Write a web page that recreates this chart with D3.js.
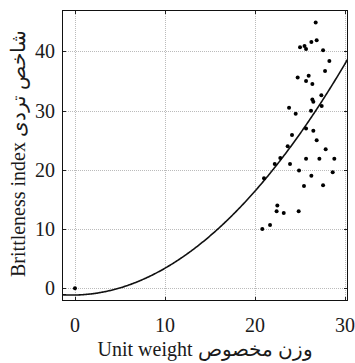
<!DOCTYPE html>
<html>
<head>
<meta charset="utf-8">
<script src="https://cdn.jsdelivr.net/npm/d3@7/dist/d3.min.js"></script>
<style>
  body { margin: 0; background: #fff; }
  text { font-family: "Liberation Serif", "Times New Roman", serif; fill: #1a1a1a; }
</style>
</head>
<body>
<div id="chart"></div>
<script>
// measured points: unit weight (x) vs brittleness index (y)
const unitWeight = [0, 26.74, 26.85, 26.26, 25.0, 25.5, 25.67, 27.56, 28.26, 27.78,
  24.74, 25.96, 25.67, 26.37, 27.37, 26.37, 26.48, 27.41, 23.78, 26.22,
  24.52, 25.67, 26.48, 24.11, 26.85, 23.63, 27.85, 22.81, 25.67, 27.15,
  28.81, 22.19, 23.89, 24.89, 28.63, 26.26, 21.0, 25.44, 27.56, 22.48,
  22.4, 23.19, 24.85, 20.81, 21.67];
const brittleness = [0, 44.9, 41.9, 41.6, 40.7, 40.9, 40.4, 40.2, 38.4, 36.7,
  35.6, 35.9, 35.0, 34.5, 32.6, 31.9, 31.5, 30.8, 30.5, 30.0,
  29.5, 27.0, 26.6, 25.9, 25.0, 24.0, 23.5, 22.0, 21.9, 21.9,
  21.9, 21.0, 21.0, 19.9, 19.6, 19.0, 18.6, 17.3, 17.4, 14.0,
  13.0, 12.7, 13.0, 10.0, 10.7];

// fitted quadratic: y = c0 + c1*x + c2*x^2
const fitCoef = [-1.13, 0.028, 0.04247];

const xTicks = [0, 10, 20, 30];
const yTicks = [0, 10, 20, 30, 40];
const xTitle = "Unit weight وزن مخصوص";
const yTitle = "Brittleness index شاخص تردی";

const width = 355, height = 363;
const margin = {top: 10, right: 7, bottom: 62, left: 62};

const svg = d3.select('#chart').append('svg')
    .attr('width', width)
    .attr('height', height);

const x = d3.scaleLinear()
    .domain([-1.44, 30.33])
    .range([margin.left, width - margin.right]);

const y = d3.scaleLinear()
    .domain([-2.14, 47.0])
    .range([height - margin.bottom, margin.top]);

const x0 = margin.left, x1 = width - margin.right;
const y0 = height - margin.bottom, y1 = margin.top;

// grid
const grid = svg.append('g').attr('stroke', '#bbb').attr('stroke-width', 1)
    .attr('stroke-dasharray', '1,1');
grid.selectAll('line.gx').data(xTicks).enter().append('line')
    .attr('x1', d => Math.round(x(d)) + 0.5).attr('x2', d => Math.round(x(d)) + 0.5)
    .attr('y1', y1).attr('y2', y0);
grid.selectAll('line.gy').data(yTicks).enter().append('line')
    .attr('y1', d => Math.round(y(d)) + 0.5).attr('y2', d => Math.round(y(d)) + 0.5)
    .attr('x1', x0).attr('x2', x1);

// inward ticks on every side
const ticks = svg.append('g').attr('stroke', '#222').attr('stroke-width', 1);
const tl = 4;
xTicks.forEach(d => {
  const px = Math.round(x(d)) + 0.5;
  ticks.append('line').attr('x1', px).attr('x2', px).attr('y1', y0).attr('y2', y0 - tl);
  ticks.append('line').attr('x1', px).attr('x2', px).attr('y1', y1).attr('y2', y1 + tl);
});
yTicks.forEach(d => {
  const py = Math.round(y(d)) + 0.5;
  ticks.append('line').attr('y1', py).attr('y2', py).attr('x1', x0).attr('x2', x0 + tl);
  ticks.append('line').attr('y1', py).attr('y2', py).attr('x1', x1).attr('x2', x1 - tl);
});

// fit curve
const curveX = d3.range(x.domain()[0], x.domain()[1] + 0.001, 0.1);
const line = d3.line()
    .x(d => x(d))
    .y(d => y(fitCoef[0] + fitCoef[1] * d + fitCoef[2] * d * d));

svg.append('defs').append('clipPath').attr('id', 'clip')
  .append('rect').attr('x', x0).attr('y', y1).attr('width', x1 - x0).attr('height', y0 - y1);

svg.append('path')
    .datum(curveX)
    .attr('clip-path', 'url(#clip)')
    .attr('fill', 'none')
    .attr('stroke', '#111')
    .attr('stroke-width', 1.6)
    .attr('d', line);

// points
svg.append('g').selectAll('circle')
    .data(unitWeight.map((d, i) => [d, brittleness[i]]))
    .enter().append('circle')
    .attr('cx', d => x(d[0]))
    .attr('cy', d => y(d[1]))
    .attr('r', 2)
    .attr('fill', '#000');

// frame
svg.append('rect')
    .attr('x', x0 + 0.5).attr('y', y1 + 0.5)
    .attr('width', x1 - x0 - 1).attr('height', y0 - y1 - 1)
    .attr('fill', 'none').attr('stroke', '#111').attr('stroke-width', 1);

// tick labels
svg.append('g').selectAll('text')
    .data(xTicks).enter().append('text')
    .attr('x', d => x(d))
    .attr('y', 332)
    .attr('text-anchor', 'middle')
    .attr('font-size', 20)
    .text(d => d);

svg.append('g').selectAll('text')
    .data(yTicks).enter().append('text')
    .attr('x', 55)
    .attr('y', d => y(d) + 7)
    .attr('text-anchor', 'end')
    .attr('font-size', 20)
    .text(d => d);

// axis titles
svg.append('text')
    .attr('x', (x0 + x1) / 2)
    .attr('y', 356)
    .attr('text-anchor', 'middle')
    .attr('font-size', 20)
    .text(xTitle);

svg.append('text')
    .attr('transform', `translate(25, ${(y0 + y1) / 2 - 2}) rotate(-90)`)
    .attr('text-anchor', 'middle')
    .attr('font-size', 20)
    .text(yTitle);
</script>
</body>
</html>
